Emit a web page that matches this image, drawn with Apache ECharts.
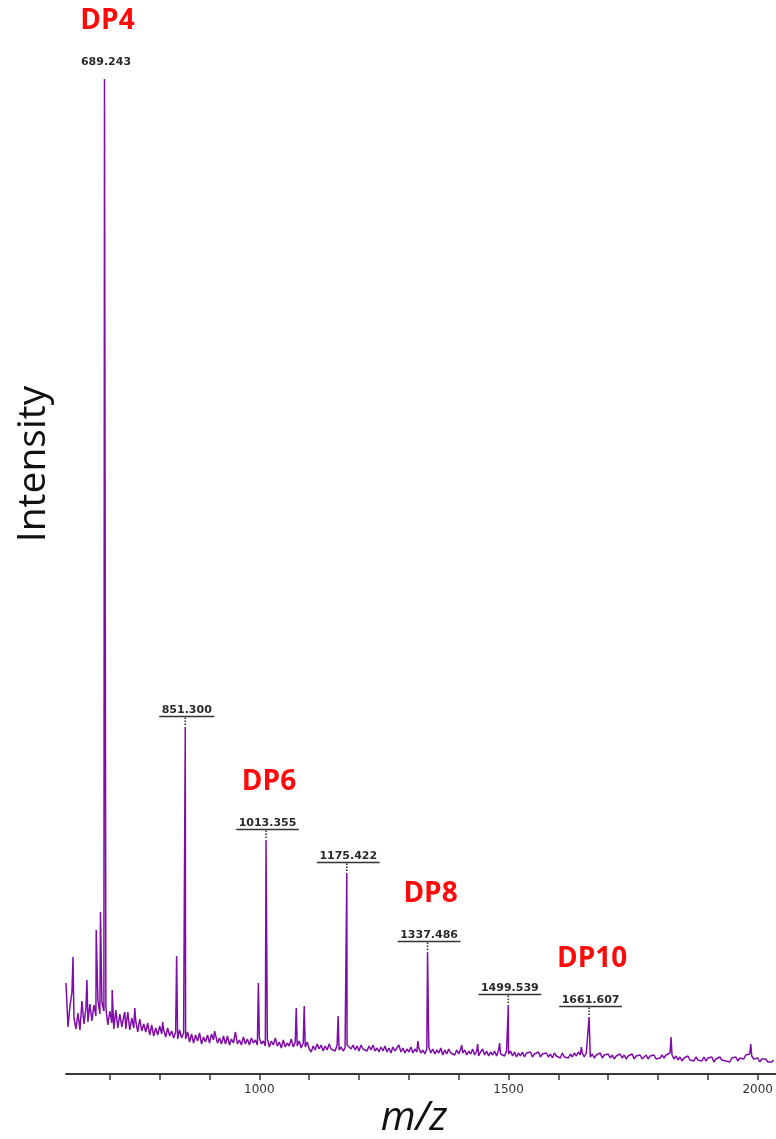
<!DOCTYPE html>
<html>
<head>
<meta charset="utf-8">
<title>MALDI spectrum</title>
<script src="https://cdn.jsdelivr.net/npm/echarts@6/dist/echarts.min.js"></script>
<style>
  html, body { margin: 0; padding: 0; background: #ffffff; }
  #chart { width: 776px; height: 1139px; }
</style>
</head>
<body>
<div id="chart"></div>
<script>
// Baseline trace: intensity sampled every 4 m/z starting at 612
const noiseStart = 612;
const noiseStep = 4;
const noise = [
  // 612 - 688
  9.1, 4.7, 6.8, 8.2, 5.6, 4.5, 6.1, 4.4, 7.3, 5.0, 6.6, 5.2, 7.0, 5.3, 6.9, 5.8, 7.4, 6.0, 7.2, 6.3,
  // 692 - 768
  6.6, 4.9, 6.3, 5.1, 4.5, 6.4, 4.6, 6.0, 4.7, 5.8, 4.5, 6.2, 4.4, 5.6, 4.6, 5.3, 4.2, 5.5, 4.3, 5.0,
  // 772 - 848
  4.2, 5.1, 3.9, 4.9, 3.8, 4.6, 3.9, 4.8, 4.0, 4.4, 3.7, 4.6, 3.8, 4.3, 3.6, 4.2, 3.5, 4.4, 3.6, 4.1,
  // 852 - 928
  3.5, 4.2, 3.2, 4.0, 3.1, 3.9, 3.3, 4.1, 3.0, 3.7, 3.2, 3.9, 3.1, 4.0, 3.4, 4.2, 3.1, 3.6, 3.0, 3.8,
  // 932 - 1008
  3.0, 3.8, 2.9, 3.5, 3.1, 4.2, 3.0, 3.4, 2.9, 3.7, 3.0, 3.5, 2.9, 3.6, 3.1, 3.4, 2.9, 3.6, 3.0, 3.3,
  // 1012 - 1088
  2.8, 3.5, 2.7, 3.3, 2.9, 3.6, 2.8, 3.2, 2.6, 3.4, 2.7, 3.1, 2.8, 3.5, 2.7, 3.2, 2.8, 3.3, 2.6, 3.1,
  // 1092 - 1168
  2.7, 3.2, 2.5, 2.2, 2.8, 2.4, 3.0, 2.5, 2.9, 2.3, 2.8, 2.4, 3.0, 2.5, 2.7, 2.3, 2.9, 2.4, 2.7, 2.3,
  // 1172 - 1248
  2.6, 2.9, 3.1, 2.5, 2.9, 2.4, 2.8, 2.3, 2.9, 2.5, 2.7, 2.3, 2.8, 2.4, 2.9, 2.3, 2.6, 2.2, 2.7, 2.3,
  // 1252 - 1328
  2.8, 2.2, 2.6, 2.1, 2.7, 2.3, 2.5, 2.9, 2.2, 2.6, 2.1, 2.5, 2.2, 2.7, 2.1, 2.5, 2.2, 2.6, 2.1, 2.4,
  // 1332 - 1408
  2.0, 2.5, 2.7, 2.1, 2.5, 2.0, 2.4, 2.1, 2.6, 1.9, 2.4, 2.0, 2.5, 2.1, 2.3, 1.9, 2.4, 2.0, 2.5, 2.1,
  // 1412 - 1488
  2.4, 1.9, 2.3, 2.0, 2.5, 1.9, 2.3, 1.8, 2.2, 2.5, 1.9, 2.3, 1.8, 2.2, 1.9, 2.3, 1.8, 2.4, 2.0, 2.2,
  // 1492 - 1568
  1.8, 2.3, 2.0, 2.3, 1.8, 2.2, 1.7, 2.1, 1.8, 2.2, 1.7, 2.1, 1.9, 2.2, 1.7, 2.0, 1.8, 2.2, 1.7, 2.0,
  // 1572 - 1648
  1.8, 2.1, 1.7, 2.0, 1.6, 2.1, 1.8, 2.0, 1.6, 2.1, 1.7, 1.9, 1.6, 2.0, 1.7, 2.1, 1.8, 2.2, 1.9, 2.1,
  // 1652 - 1728
  1.7, 2.1, 2.2, 1.7, 2.0, 1.6, 1.9, 1.7, 2.1, 1.6, 1.9, 1.7, 2.0, 1.6, 1.9, 1.5, 1.8, 1.6, 2.0, 1.6,
  // 1732 - 1808
  1.9, 1.5, 1.8, 1.6, 2.0, 1.5, 1.8, 1.6, 1.9, 1.5, 1.7, 1.9, 1.5, 1.8, 1.6, 1.9, 1.5, 1.7, 1.6, 1.9,
  // 1812 - 1888
  1.6, 1.9, 1.7, 2.1, 1.9, 1.5, 1.8, 1.4, 1.7, 1.3, 1.6, 1.4, 1.8, 1.4, 1.6, 1.3, 1.7, 1.4, 1.6, 1.3,
  // 1892 - 1968
  1.7, 1.3, 1.6, 1.4, 1.7, 1.2, 1.5, 1.3, 1.7, 1.4, 1.6, 1.3, 1.5, 1.2, 1.6, 1.4, 1.7, 1.3, 1.6, 1.8,
  // 1972 - 2032
  1.5, 1.9, 1.7, 2.0, 1.8, 1.5, 1.3, 1.6, 1.2, 1.5, 1.3, 1.5, 1.2, 1.4, 1.2, 1.4
];

// Peak apexes (m/z, intensity)
const peakMz = [
  626.0, 654.0, 672.6, 681.2, 689.243, 704.7, 712.7, 730.0, 750.0,
  806.0, 834.0, 851.300, 910.0, 998.0, 1013.355, 1074.0, 1090.0,
  1158.0, 1175.422, 1318.0, 1337.486, 1406.0, 1438.0, 1482.0,
  1499.539, 1646.0, 1661.607, 1826.0, 1986.0
];
const peakHeight = [
  11.7, 9.4, 14.4, 16.2, 99.5, 8.4, 6.6, 6.2, 6.6,
  5.2, 11.8, 34.7, 4.3, 9.1, 23.4, 6.6, 6.8,
  5.8, 20.1, 3.3, 12.2, 2.9, 3.0, 3.1,
  6.9, 2.7, 5.7, 3.7, 3.0
];

// Annotated peaks
const labelMz = [689.243, 851.300, 1013.355, 1175.422, 1337.486, 1499.539, 1661.607];
const labelUnderlined = [false, true, true, true, true, true, true];

// Degree-of-polymerisation tags
const dpNames = ['DP4', 'DP6', 'DP8', 'DP10'];
const dpMz = [689.243, 1013.355, 1337.486, 1661.607];

// Axis ticks
const tickValues = [700, 800, 900, 1000, 1100, 1200, 1300, 1400, 1500, 1600, 1700, 1800, 1900, 2000];
const tickLabels = [1000, 1500, 2000];

const heightAt = mz => peakHeight[peakMz.indexOf(mz)];

const spectrum = noise
  .map((v, i) => [noiseStart + i * noiseStep, v])
  .concat(peakMz.map((m, i) => [m, peakHeight[i]]))
  .sort((a, b) => a[0] - b[0]);

const annotations = labelMz.map((mz, i) => [mz, heightAt(mz), i]);

const LABEL_FONT = 'bold 11px "DejaVu Sans"';
const measureCtx = document.createElement('canvas').getContext('2d');
measureCtx.font = LABEL_FONT;

function renderAnnotation(params, api) {
  const mz = api.value(0);
  const h = api.value(1);
  const idx = api.value(2);
  const pt = api.coord([mz, h]);
  const px = pt[0], py = pt[1];
  const text = labelMz[idx].toFixed(3);
  const w = measureCtx.measureText(text).width;
  const children = [{
    type: 'text',
    style: {
      x: px + 1.5, y: py - 17, text: text, font: LABEL_FONT,
      fill: '#2a2a2a', align: 'center', verticalAlign: 'middle'
    }
  }];
  if (labelUnderlined[idx]) {
    children.push({
      type: 'line',
      shape: { x1: px + 1.5 - w / 2 - 2.5, y1: py - 10.5, x2: px + 1.5 + w / 2 + 2.5, y2: py - 10.5 },
      style: { stroke: '#333333', lineWidth: 1.6 }
    });
    children.push({
      type: 'line',
      shape: { x1: px, y1: py - 9.5, x2: px, y2: py - 0.5 },
      style: { stroke: '#333333', lineWidth: 1.6, lineDash: [1.5, 1.5] }
    });
  }
  const dpIdx = dpMz.indexOf(labelMz[idx]);
  if (dpIdx >= 0) {
    children.push({
      type: 'text',
      style: {
        x: px + 3, y: py - 58, text: dpNames[dpIdx],
        font: 'bold 28px "Open Sans"', fill: '#ff0a0a',
        align: 'center', verticalAlign: 'middle'
      }
    });
  }
  return { type: 'group', children: children };
}

const chart = echarts.init(document.getElementById('chart'), null, { renderer: 'canvas' });
chart.setOption({
  animation: false,
  backgroundColor: '#ffffff',
  grid: { left: 66, right: 0, top: 74, bottom: 65, containLabel: false },
  xAxis: {
    type: 'value',
    min: 612,
    max: 2035,
    splitLine: { show: false },
    axisLine: { show: true, lineStyle: { color: '#3a3a3a', width: 2 } },
    axisTick: {
      show: true, customValues: tickValues, length: 6, inside: false,
      lineStyle: { color: '#3a3a3a', width: 1.5 }
    },
    axisLabel: {
      customValues: tickLabels, margin: 10,
      formatter: v => String(v),
      fontFamily: 'DejaVu Sans', fontSize: 12, color: '#333333'
    }
  },
  yAxis: {
    type: 'value',
    min: 0,
    max: 100,
    show: false
  },
  graphic: [
    {
      type: 'text', x: 34, y: 464, rotation: Math.PI / 2,
      style: {
        text: 'Intensity', font: '39px "Open Sans"', fill: '#111111',
        align: 'center', verticalAlign: 'middle'
      }
    },
    {
      type: 'text', x: 414, y: 1119,
      style: {
        text: 'm/z', font: 'italic 40px "Open Sans"', fill: '#111111',
        align: 'center', verticalAlign: 'middle'
      }
    }
  ],
  series: [
    {
      type: 'line',
      data: spectrum,
      showSymbol: false,
      symbol: 'none',
      lineStyle: { color: '#7f0ea8', width: 1.5 },
      z: 2
    },
    {
      type: 'custom',
      coordinateSystem: 'cartesian2d',
      data: annotations,
      renderItem: renderAnnotation,
      clip: false,
      z: 3
    }
  ]
});
</script>
</body>
</html>
